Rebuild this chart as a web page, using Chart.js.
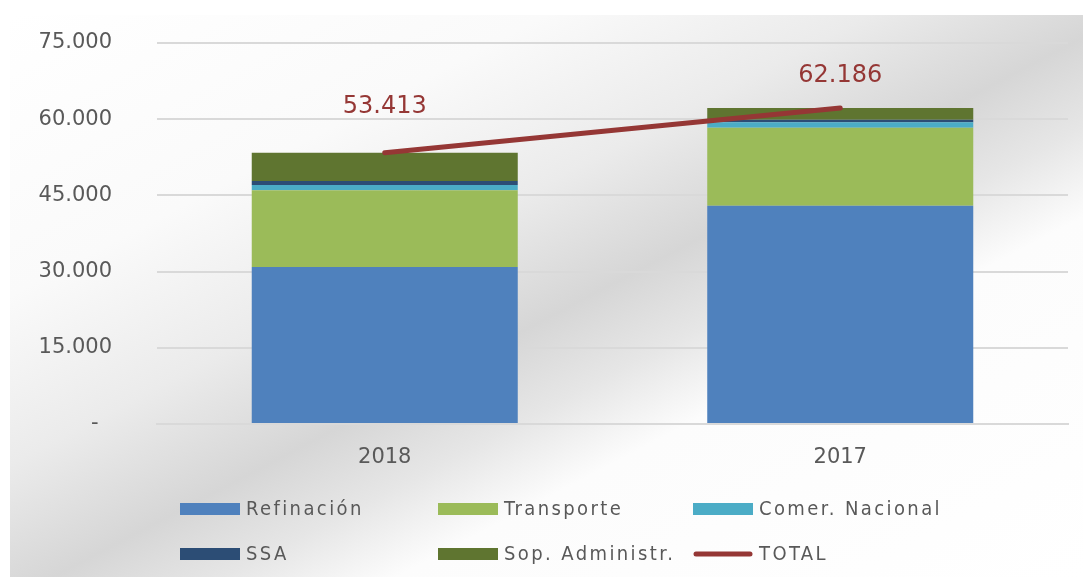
<!DOCTYPE html>
<html>
<head>
<meta charset="utf-8">
<script src="https://cdn.jsdelivr.net/npm/chart.js@4"></script>
<style>
  html, body { margin: 0; padding: 0; background: #fff; }
  #wrap { position: relative; width: 1083px; height: 577px; }
  #bg {
    position: absolute; left: 10px; top: 15px; width: 1073px; height: 562px;
    background: linear-gradient(to bottom right,
      #ffffff 0%, #fafafa 25%, #ebebeb 40%, #d6d6d6 52%, #e6e6e6 60%, #fcfcfc 68%, #ffffff 100%);
  }
  canvas { position: absolute; left: 0; top: 0; }
</style>
</head>
<body>
<div id="wrap">
  <div id="bg"></div>
  <canvas id="costChart" width="1083" height="577"></canvas>
</div>
<script>
// Data
const years = ['2018', '2017'];
const refinacion = [30900, 42950];
const transporte = [15100, 15350];
const comerNacional = [1050, 1120];
const ssa = [800, 450];
const sopAdministr = [5563, 2316];
const totals = [53413, 62186];
const yTicks = [0, 15000, 30000, 45000, 60000, 75000];

const textGray = '#595959';
const fmt = v => v === 0 ? '-  ' : String(v).replace(/\B(?=(\d{3})+(?!\d))/g, '.');

// Value labels over the TOTAL line
const totalLabels = {
  id: 'totalLabels',
  afterDatasetsDraw(chart, args, opts) {
    const idx = chart.data.datasets.findIndex(d => d.type === 'line');
    const meta = chart.getDatasetMeta(idx);
    const ctx = chart.ctx;
    ctx.save();
    ctx.font = '24px "DejaVu Sans"';
    ctx.fillStyle = '#953735';
    ctx.textAlign = 'center';
    ctx.textBaseline = 'middle';
    meta.data.forEach((pt, i) => {
      ctx.fillText(fmt(chart.data.datasets[idx].data[i]), pt.x, pt.y - opts.offsets[i]);
    });
    ctx.restore();
  }
};

// Legend laid out in three columns like the original
const gridLegend = {
  id: 'gridLegend',
  afterDraw(chart, args, opts) {
    const ctx = chart.ctx;
    ctx.save();
    ctx.font = '20px "DejaVu Sans Condensed", "DejaVu Sans"';
    ctx.letterSpacing = '2.4px';
    ctx.textBaseline = 'middle';
    chart.data.datasets.forEach((ds, i) => {
      const x = opts.cols[i % 3];
      const y = opts.rows[Math.floor(i / 3)];
      if (ds.type === 'line') {
        ctx.strokeStyle = ds.borderColor;
        ctx.lineWidth = 5;
        ctx.lineCap = 'round';
        ctx.beginPath();
        ctx.moveTo(x + 3, y);
        ctx.lineTo(x + 57, y);
        ctx.stroke();
      } else {
        ctx.fillStyle = ds.backgroundColor;
        ctx.fillRect(x, y - 6, 60, 12);
      }
      ctx.fillStyle = textGray;
      ctx.fillText(ds.label, x + 66, y + 1);
    });
    ctx.restore();
  }
};

const bar = (label, data, color) => ({
  label, data, backgroundColor: color, stack: 'costs', order: 1,
  categoryPercentage: 1, barPercentage: 0.584
});

new Chart(document.getElementById('costChart'), {
  type: 'bar',
  data: {
    labels: years,
    datasets: [
      bar('Refinación', refinacion, '#4f81bd'),
      bar('Transporte', transporte, '#9bbb59'),
      bar('Comer. Nacional', comerNacional, '#4bacc6'),
      bar('SSA', ssa, '#2c4d75'),
      bar('Sop. Administr.', sopAdministr, '#5f7530'),
      {
        type: 'line', label: 'TOTAL', data: totals, stack: 'total', order: 0,
        borderColor: '#953735', borderWidth: 5, borderCapStyle: 'round',
        pointRadius: 0, fill: false, tension: 0
      }
    ]
  },
  options: {
    responsive: false,
    animation: false,
    layout: { padding: { top: 43, right: 15, left: 0, bottom: 0 } },
    plugins: {
      legend: { display: false },
      tooltip: { enabled: false },
      totalLabels: { offsets: [46, 32] },
      gridLegend: { cols: [180, 438, 693], rows: [509, 554] }
    },
    scales: {
      x: {
        stacked: true,
        grid: { display: false, drawTicks: false },
        border: { display: true, color: '#d9d9d9', width: 2 },
        ticks: { color: textGray, font: { family: 'DejaVu Sans', size: 21 }, padding: 21 },
        afterFit(scale) { scale.height = 153; }
      },
      y: {
        stacked: true,
        min: 0, max: 75000,
        afterBuildTicks(scale) { scale.ticks = yTicks.map(v => ({ value: v })); },
        grid: { color: '#d9d9d9', lineWidth: 2, drawTicks: false },
        border: { display: false },
        ticks: { color: textGray, font: { family: 'DejaVu Sans', size: 21 }, padding: 45, callback: v => fmt(v) },
        afterFit(scale) {
          scale.width = 157;
          // the large tick padding should not push the plot area down
          scale.paddingTop = 0;
          scale.paddingBottom = 0;
        }
      }
    }
  },
  plugins: [totalLabels, gridLegend]
});
</script>
</body>
</html>
